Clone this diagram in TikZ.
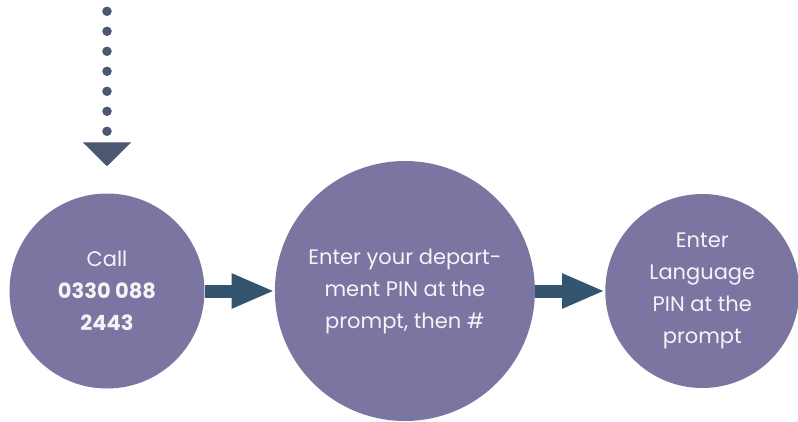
\documentclass[tikz,border=0pt]{standalone}
\usepackage{fontspec}
\setmainfont{Poppins}
\usetikzlibrary{arrows.meta,positioning}
\definecolor{Lavender}{RGB}{123,117,162}
\definecolor{SlateBlue}{RGB}{52,85,112}
\definecolor{DotGray}{RGB}{76,88,112}
\definecolor{OffWhite}{RGB}{246,243,247}

\begin{document}
\begin{tikzpicture}[
   font=\fontsize{21}{32}\selectfont,
   node distance=70pt,
   stage/.style={circle,fill=Lavender,text=OffWhite,inner sep=0pt,align=center},
   arr/.style={-{Triangle[length=43pt,width=32pt]},line width=13pt,SlateBlue},
   dots/.style={-{Triangle[length=24pt,width=47pt]},line width=9.5pt,line cap=round,
                dash pattern=on 0pt off 20pt,DotGray}]
   \useasboundingbox (0,0) rectangle (798pt,-421pt);
   \node[stage,minimum size=195pt] (call) at (107pt,-291pt) {Call\\\textbf{0330 088}\\\textbf{2443}};
   \node[stage,minimum size=260pt,right=of call] (dept) {Enter your depart-\\ment PIN at the\\prompt, then \#};
   \node[stage,minimum size=194pt,right=of dept] (lang) {Enter\\Language\\PIN at the\\prompt};
   \coordinate[above=182pt of call.north] (src);
   \draw[dots,shorten >=27pt] (src) -- (call.north);
   \draw[arr] (call) -- (dept);
   \draw[arr] (dept) -- (lang);
\end{tikzpicture}
\end{document}
